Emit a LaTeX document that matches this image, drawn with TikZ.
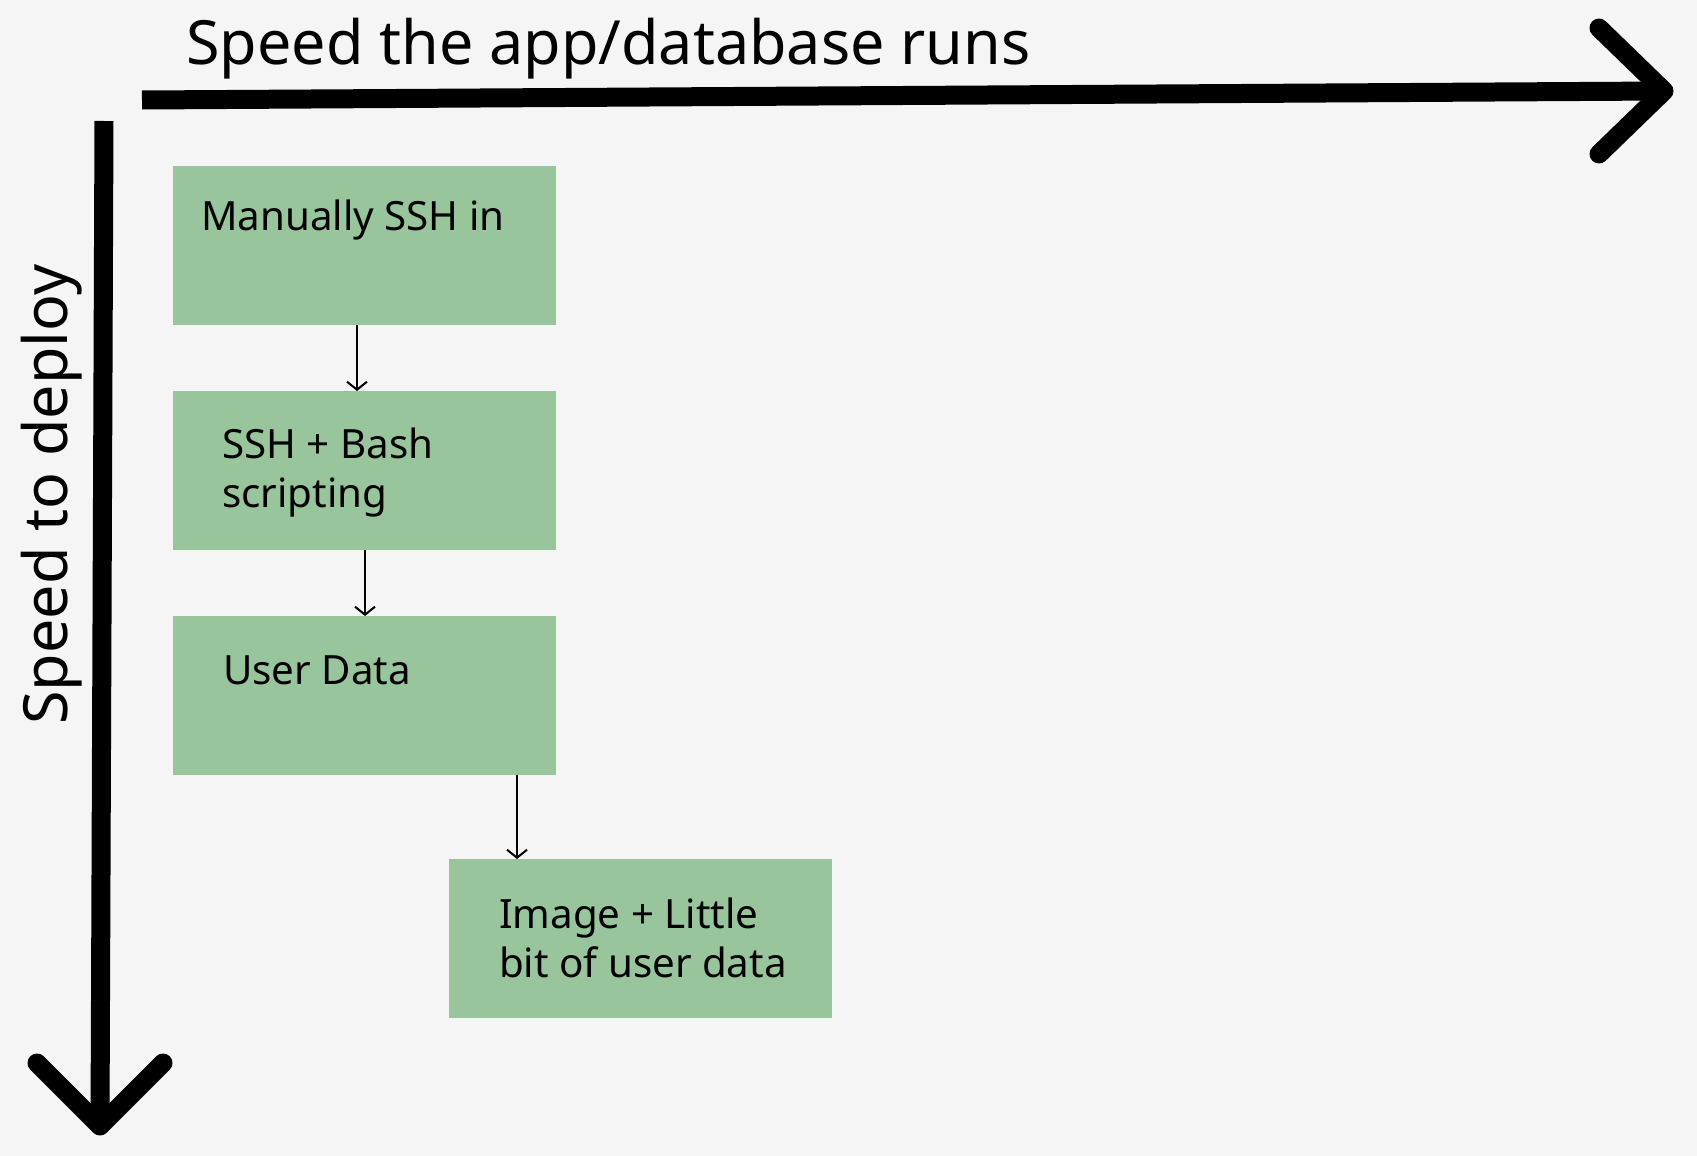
\documentclass[tikz,border=0pt]{standalone}
\usepackage{fontspec}
\setmainfont{Noto Sans}
\usetikzlibrary{arrows.meta}
\definecolor{bg}{HTML}{F5F5F5}
\definecolor{boxgreen}{HTML}{98C59B}
\begin{document}
\begin{tikzpicture}[x=1pt,y=-1pt,
  axis/.style={line width=19pt},
  axishead/.style={line width=19pt,line cap=round,line join=round},
  stepbox/.style={draw=none,fill=boxgreen,minimum width=383pt,minimum height=159pt,inner sep=0pt,anchor=north west},
  boxtext/.style={anchor=base west,font=\fontsize{40.3}{49}\selectfont,inner sep=0pt,align=left},
  axistext/.style={anchor=base west,font=\fontsize{61}{70}\selectfont,inner sep=0pt},
  flow/.style={line width=2pt,-{Straight Barb[length=8pt,width=20pt]}}
]
\fill[bg] (0,0) rectangle (1697,1156);
\useasboundingbox (0,0) rectangle (1697,1156);

% axes
\coordinate (xs) at (142,100);
\coordinate (xe) at (1664,91);
\coordinate (xa1) at (1599,28);
\coordinate (xa2) at (1599,154);
\draw[axis] (xs) -- (xe);
\draw[axishead] (xa1) -- (xe) -- (xa2);

\coordinate (ys) at (104,121);
\coordinate (ye) at (100,1126);
\coordinate (ya1) at (37,1063);
\coordinate (ya2) at (163,1063);
\draw[axis] (ys) -- (ye);
\draw[axishead] (ya1) -- (ye) -- (ya2);

\node[axistext] (xlabel) at (186,64) {Speed the app/database runs};
\node[axistext,rotate=90] (ylabel) at (67,725) {Speed to deploy};

% boxes
\node[stepbox] (b1) at (173,166) {};
\node[stepbox] (b2) at (173,391) {};
\node[stepbox] (b3) at (173,616) {};
\node[stepbox] (b4) at (449,859) {};

% text (base = baseline of the last line)
\node[boxtext] (t1) at (201,230) {Manually SSH in};
\node[boxtext] (t2) at (222,507) {SSH + Bash\\scripting};
\node[boxtext] (t3) at (223,684) {User Data};
\node[boxtext] (t4) at (499,977) {Image + Little\\bit of user data};

% flow arrows
\draw[flow] ([xshift=184pt]b1.south west) -- ([xshift=184pt]b2.north west);
\draw[flow] ([xshift=192pt]b2.south west) -- ([xshift=192pt]b3.north west);
\draw[flow] ([xshift=344pt]b3.south west) -- ([xshift=68pt]b4.north west);
\end{tikzpicture}
\end{document}
